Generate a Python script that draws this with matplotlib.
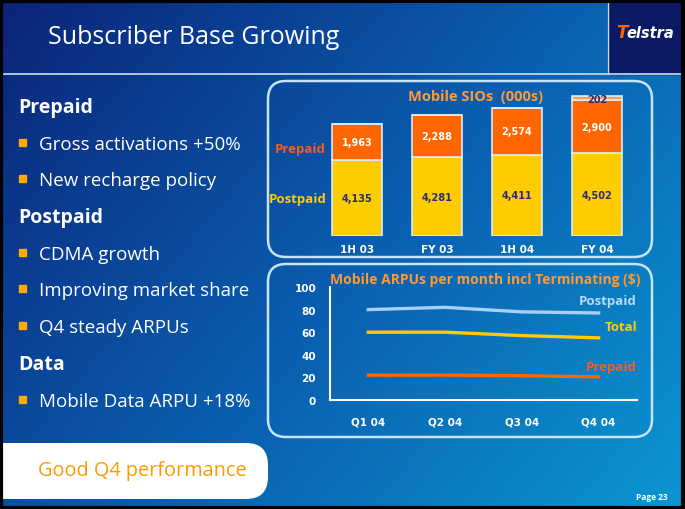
import numpy as np
import matplotlib.pyplot as plt
from matplotlib.patches import FancyBboxPatch, Rectangle
from matplotlib.colors import LinearSegmentedColormap

# bar chart data (000s)
periods = ["1H 03", "FY 03", "1H 04", "FY 04"]
postpaid_sios = [4135, 4281, 4411, 4502]
prepaid_sios = [1963, 2288, 2574, 2900]
extra_sios = [0, 0, 0, 202]

# line chart data ($)
quarters = ["Q1 04", "Q2 04", "Q3 04", "Q4 04"]
arpu_postpaid = [80, 82, 78, 77]
arpu_total = [60, 60, 57, 55]
arpu_prepaid = [22, 22, 21.5, 20.5]

bullets = [
    ("Prepaid", True), ("Gross activations +50%", False), ("New recharge policy", False),
    ("Postpaid", True), ("CDMA growth", False), ("Improving market share", False),
    ("Q4 steady ARPUs", False), ("Data", True), ("Mobile Data ARPU +18%", False),
]

W, H = 685, 510
ORANGE = "#ff6600"
GOLD = "#ffcc00"
LIGHT = "#a8d0f4"
NAVY = "#2b2a7a"
plt.rcParams["font.family"] = ["Open Sans", "DejaVu Sans"]

fig = plt.figure(figsize=(W / 100, H / 100), dpi=100)
bg = fig.add_axes([0, 0, 1, 1])
bg.set_xlim(0, W)
bg.set_ylim(H, 0)
bg.axis("off")

# gradient background
cmap = LinearSegmentedColormap.from_list("bg", ["#0b2478", "#0a5cae", "#0a96d2"])
gx, gy = np.meshgrid(np.linspace(0, 1, 200), np.linspace(0, 1, 200))
grad = 0.62 * gx + 0.38 * gy
bg.imshow(grad, cmap=cmap, extent=[0, W, H, 0], aspect="auto", zorder=0)
bg.add_patch(Rectangle((608, 0), W - 608, 75, color="#0c1a66", zorder=1))
bg.plot([0, W], [75, 75], color="#c8e0f4", lw=1.2, zorder=2)
bg.plot([608, 608], [0, 75], color="#c8e0f4", lw=1.0, zorder=2)
bg.add_patch(Rectangle((1.5, 1.5), W - 3, H - 3, fill=False, ec="black", lw=3, zorder=10))

bg.text(48, 38, "Subscriber Base Growing", color="white", fontsize=18, va="center", zorder=3)
bg.text(616, 33, "T", color=ORANGE, fontsize=12, fontweight="bold", style="italic", va="center",
        family="DejaVu Sans", zorder=3)
bg.text(626, 33, "elstra", color="white", fontsize=10.5, fontweight="bold", style="italic", va="center",
        family="DejaVu Sans", zorder=3)

# left column bullets
y = 108
for txt, head in bullets:
    if head:
        bg.text(18, y, txt, color="white", fontsize=14, fontweight="bold", va="center", zorder=3)
    else:
        bg.add_patch(Rectangle((19, y - 5), 7, 7, color="#ffaa00", zorder=3))
        bg.text(39, y, txt, color="white", fontsize=13.5, va="center", zorder=3)
    y += 36.7

# "Good Q4 performance" box
bg.add_patch(FancyBboxPatch((-20, 444), 288, 56, boxstyle="round,pad=0,rounding_size=22",
                            fc="white", ec="none", zorder=3))
bg.text(38, 471, "Good Q4 performance", color="#ff9900", fontsize=14.3, va="center", zorder=4)
bg.text(652, 498, "Page 23", color="white", fontsize=6, fontweight="bold", ha="center", va="center", zorder=3)

# chart frames
for y0, h in [(82, 176), (265, 173)]:
    bg.add_patch(FancyBboxPatch((268, y0), 384, h, boxstyle="round,pad=0,rounding_size=18",
                                fill=False, ec="#c8e4f8", lw=1.8, zorder=3))


def px_axes(left, right, top, bottom):
    return fig.add_axes([left / W, 1 - bottom / H, (right - left) / W, (bottom - top) / H])


# stacked bars
ax = px_axes(269, 637, 90, 237)
ax.patch.set_alpha(0)
x = np.arange(len(periods))
bw = 0.625
ax.bar(x, postpaid_sios, bw, color=GOLD, ec="#d8ecfc", lw=1.2)
ax.bar(x, prepaid_sios, bw, bottom=postpaid_sios, color=ORANGE, ec="#d8ecfc", lw=1.2)
tops = np.array(postpaid_sios) + np.array(prepaid_sios)
ax.bar(x, extra_sios, bw, bottom=tops, color="#f8a060", ec="#d8ecfc", lw=1.2, hatch="....")
for i in range(len(periods)):
    ax.text(x[i], postpaid_sios[i] / 2, f"{postpaid_sios[i]:,}", color=NAVY, fontsize=7,
            fontweight="bold", ha="center", va="center", family="DejaVu Sans")
    ax.text(x[i], postpaid_sios[i] + prepaid_sios[i] / 2, f"{prepaid_sios[i]:,}", color="white",
            fontsize=7, fontweight="bold", ha="center", va="center", family="DejaVu Sans")
    if extra_sios[i]:
        ax.text(x[i], tops[i] + extra_sios[i] / 2 - 60, f"{extra_sios[i]:,}", color=NAVY,
                fontsize=7, fontweight="bold", ha="center", va="center", family="DejaVu Sans")
ax.text(-0.71, postpaid_sios[0] + prepaid_sios[0] / 2 - 350, "Prepaid", color="#ff5a1a", fontsize=9.5,
        fontweight="bold", ha="center", va="center")
ax.text(-0.74, postpaid_sios[0] / 2, "Postpaid", color=GOLD, fontsize=9.5,
        fontweight="bold", ha="center", va="center")
ax.text(1.48, 7600, "Mobile SIOs  (000s)", color="#ff9933", fontsize=10.5, fontweight="bold",
        ha="center", va="center")
ax.set_xlim(-1.1, 3.5)
ax.set_ylim(0, 8000)
ax.set_xticks(x, periods)
ax.tick_params(length=0, pad=6, labelcolor="white", labelsize=7.5)
for lab in ax.get_xticklabels():
    lab.set_fontweight("bold")
    lab.set_family("DejaVu Sans")
ax.set_yticks([])
for s in ax.spines.values():
    s.set_visible(False)

# ARPU lines
ax2 = px_axes(330, 637, 288, 401)
ax2.patch.set_alpha(0)
xq = np.arange(len(quarters))
ax2.plot(xq, arpu_postpaid, color=LIGHT, lw=2.4)
ax2.plot(xq, arpu_total, color=GOLD, lw=2.4)
ax2.plot(xq, arpu_prepaid, color=ORANGE, lw=2.4)
ax2.text(3.5, 88, "Postpaid", color="#b8dcf8", fontsize=9.5, fontweight="bold", ha="right", va="center")
ax2.text(3.5, 65, "Total", color=GOLD, fontsize=9.5, fontweight="bold", ha="right", va="center")
ax2.text(3.5, 30, "Prepaid", color="#ff5a1a", fontsize=9.5, fontweight="bold", ha="right", va="center")
ax2.text(-0.5, 107, "Mobile ARPUs per month incl Terminating ($)", color="#ff9933", fontsize=10,
         fontweight="bold", ha="left", va="center")
ax2.set_xlim(-0.5, 3.5)
ax2.set_ylim(0, 100)
ax2.set_yticks(range(0, 101, 20))
ax2.set_xticks(xq, quarters)
ax2.tick_params(length=0, labelcolor="white", labelsize=7.5)
ax2.tick_params(axis="y", pad=10)
ax2.tick_params(axis="x", pad=12)
for lab in ax2.get_xticklabels() + ax2.get_yticklabels():
    lab.set_fontweight("bold")
    lab.set_family("DejaVu Sans")
for side in ["top", "right"]:
    ax2.spines[side].set_visible(False)
for side in ["left", "bottom"]:
    ax2.spines[side].set_color("white")
    ax2.spines[side].set_linewidth(1.5)

fig.savefig("out.png", dpi=100)
